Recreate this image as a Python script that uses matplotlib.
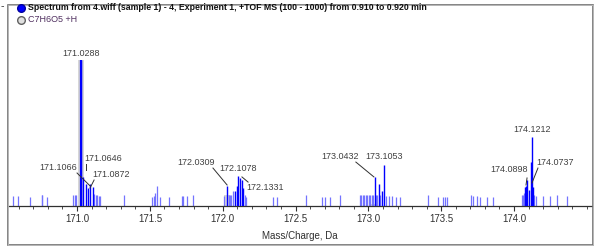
import matplotlib
matplotlib.use("Agg")
import matplotlib.pyplot as plt
from matplotlib import font_manager
from matplotlib.patches import Rectangle
from matplotlib.lines import Line2D


def pick_font(names):
    for name in names:
        try:
            font_manager.findfont(name, fallback_to_default=False)
            return name
        except Exception:
            pass
    return "DejaVu Sans"


narrow = pick_font(["Liberation Sans Narrow", "Liberation Sans", "Arial"])

# dark (main) peaks: m/z, relative intensity %
main_mz = [171.0288, 171.041, 171.0646, 171.075, 171.0872, 171.1066,
           172.0309, 172.085, 172.098, 172.1078, 172.118, 172.1331, 172.14,
           173.0432, 173.07, 173.09, 173.1053,
           174.0737, 174.08, 174.0898, 174.10, 174.1155, 174.1212, 174.13]
main_int = [100, 20, 15, 12, 15, 13,
            14, 10, 13.7, 20.5, 19, 18, 12,
            20, 15, 10, 28,
            13, 14, 18, 11, 30, 47.5, 13]

# small peaks (light)
minor_mz = [170.561, 170.595, 170.677, 170.757, 170.762, 170.794, 170.973, 170.985, 170.993,
            171.118, 171.128, 171.138, 171.148, 171.158, 171.323,
            171.515, 171.525, 171.535, 171.549, 171.570, 171.631, 171.721, 171.73, 171.755, 171.796,
            172.01, 172.04, 172.05, 172.06, 172.07, 172.15, 172.16,
            172.345, 172.373, 172.572, 172.681, 172.702, 172.736, 172.805,
            172.942, 172.952, 172.962, 172.972, 172.982, 172.992, 173.002, 173.012, 173.022,
            173.032, 173.052, 173.062, 173.08, 173.12, 173.14, 173.16, 173.19, 173.217,
            173.409, 173.478, 173.512, 173.526, 173.540, 173.704, 173.718, 173.745, 173.766,
            173.814, 173.855,
            174.054, 174.06, 174.066, 174.14, 174.15, 174.198, 174.246, 174.294, 174.363]
minor_int = [7, 7, 6.5, 7.5, 7.5, 6.5, 7.5, 7.5, 7.5,
             8, 7.5, 7.5, 7, 7, 7.5,
             6.5, 7, 9, 14, 6, 6, 7, 7, 7, 7.5,
             7, 7.5, 7.5, 7.5, 10, 7.5, 6,
             6, 6, 7.5, 6.5, 6.5, 6.5, 7.5,
             7.5, 7.5, 7.5, 7.5, 7.5, 7.5, 7.5, 7.5, 7.5,
             7.5, 7.5, 7.5, 7.5, 7, 7, 7, 6, 6,
             7.5, 6.5, 6.5, 6.5, 6.5, 7.5, 7, 7, 6.5,
             6.5, 6.5,
             7.5, 7.5, 9, 7.5, 7, 7, 7, 7.5, 7]

# theoretical pattern for C7H6O5 +H (gray)
theo_mz = [171.0288, 172.032, 173.034]
theo_int = [100, 7.7, 1.3]

# peak labels (text, text m/z, text height %)
label_txt = ["171.0288", "171.1066", "171.0646", "171.0872", "172.0309", "172.1078",
             "172.1331", "173.0432", "173.1053", "174.0898", "174.1212", "174.0737"]
label_x = [171.0288, 170.870, 171.178, 171.233, 171.817, 172.1078,
           172.290, 172.805, 173.1053, 173.965, 174.1212, 174.281]
label_y = [104.8, 26.7, 32.2, 21.9, 30.1, 26.0,
           13.0, 33.6, 33.6, 24.7, 52.7, 29.5]

# leader lines (m/z, % at each end)
lead_x0 = [171.000, 171.117, 171.933, 172.132, 172.914, 174.089, 174.164, 171.0646]
lead_y0 = [22.6, 17.8, 26.0, 19.9, 30.1, 19.2, 26.0, 28.8]
lead_x1 = [171.090, 171.089, 172.030, 172.174, 173.038, 174.082, 174.123, 171.0646]
lead_y1 = [13.7, 12.3, 14.4, 16.4, 19.9, 14.4, 15.8, 24.7]

fig = plt.figure(figsize=(5.95, 2.48), dpi=100)
W, H = 595.0, 248.0
ax = fig.add_axes([8 / W, 1 - 206 / H, 584 / W, 201 / H])

ax.bar(theo_mz, theo_int, width=0.04, color="#d6d6d6", zorder=1)
ax.vlines(minor_mz, 0, minor_int, color="#7373ff", lw=0.9, zorder=2)
ax.vlines(main_mz, 0, main_int, color="#0000ff", lw=1.0, zorder=3)
ax.vlines([171.0288], 0, [100], color="#0000ff", lw=1.6, zorder=3)

for txt, tx, ty in zip(label_txt, label_x, label_y):
    ax.text(tx, ty, txt, ha="center", va="center", fontsize=6.5, family=narrow,
            color="#404040", zorder=5)
for x0, y0, x1, y1 in zip(lead_x0, lead_y0, lead_x1, lead_y1):
    ax.plot([x0, x1], [y0, y1], color="#303030", lw=0.7, zorder=4)

ax.set_xlim(170.526, 174.535)
ax.set_ylim(0, 137.7)
ax.set_xticks([171.0, 171.5, 172.0, 172.5, 173.0, 173.5, 174.0])
ax.set_xticklabels(["171.0", "171.5", "172.0", "172.5", "173.0", "173.5", "174.0"])
ax.set_xticks([170.6 + 0.1 * i for i in range(40)], minor=True)
ax.tick_params(axis="x", which="major", length=3.5, width=0.8, color="#303030",
               labelsize=7, labelcolor="#303030", pad=2.5)
ax.tick_params(axis="x", which="minor", length=2, width=0.6, color="#303030")
for lab in ax.get_xticklabels():
    lab.set_family(narrow)
ax.set_yticks([])
ax.spines["top"].set_visible(False)
ax.spines["right"].set_visible(False)
ax.spines["left"].set_visible(False)
ax.spines["bottom"].set_color("#303030")
ax.spines["bottom"].set_linewidth(0.9)
ax.set_xlabel("Mass/Charge, Da", fontsize=7, family=narrow, color="#303030", labelpad=5)

# outer frame
fig.patches.append(Rectangle((8 / W, 3 / H), 585 / W, 240 / H, transform=fig.transFigure,
                             fill=False, edgecolor="#707070", lw=1.2))
fig.patches.append(Rectangle((8 / W, 3 / H), 585 / W, 240 / H, transform=fig.transFigure,
                             fill=False, edgecolor="#c0c0c0", lw=0.6))

# legend header
fig.text(1 / W, 1 - 6 / H, "-", fontsize=7, color="#404040", va="center")
fig.add_artist(Line2D([21 / W], [1 - 8 / H], marker="o", markersize=5.5,
                      markerfacecolor="#0000ff", markeredgecolor="#0000a0"))
fig.add_artist(Line2D([21 / W], [1 - 20 / H], marker="o", markersize=5.5,
                      markerfacecolor="#e0e0e0", markeredgecolor="#606060"))
fig.text(28 / W, 1 - 8 / H,
         "Spectrum from 4.wiff (sample 1) - 4, Experiment 1, +TOF MS (100 - 1000) from 0.910 to 0.920 min",
         fontsize=6.3, family=narrow, weight="bold", color="#101010", va="center")
fig.text(28 / W, 1 - 20 / H, "C7H6O5 +H", fontsize=6.5, family=narrow,
         color="#503060", va="center")

fig.savefig("out.png", dpi=100)
